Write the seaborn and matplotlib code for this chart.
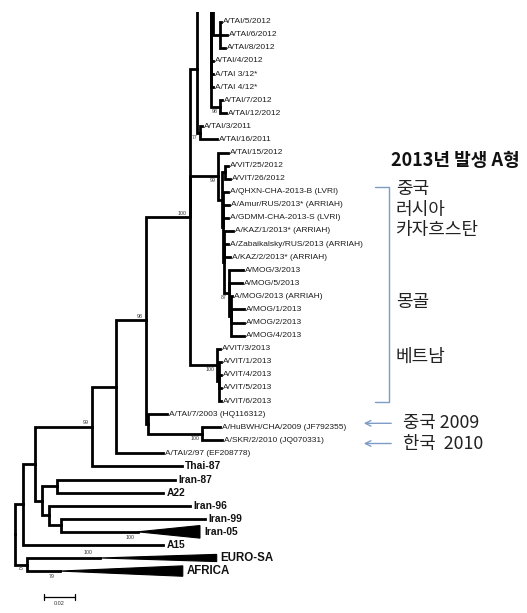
import matplotlib
matplotlib.use("Agg")
import matplotlib.pyplot as plt
import pandas as pd
import seaborn as sns

# ------------------------------------------------------------------ data
# visible leaves, top to bottom (depth = substitutions/site from root)
tip_names = [
    "A/TAI/5/2012", "A/TAI/6/2012", "A/TAI/8/2012", "A/TAI/4/2012",
    "A/TAI 3/12*", "A/TAI 4/12*", "A/TAI/7/2012", "A/TAI/12/2012",
    "A/TAI/3/2011", "A/TAI/16/2011", "A/TAI/15/2012", "A/VIT/25/2012",
    "A/VIT/26/2012", "A/QHXN-CHA-2013-B (LVRI)", "A/Amur/RUS/2013* (ARRIAH)",
    "A/GDMM-CHA-2013-S (LVRI)", "A/KAZ/1/2013* (ARRIAH)",
    "A/Zabaikalsky/RUS/2013 (ARRIAH)", "A/KAZ/2/2013* (ARRIAH)",
    "A/MOG/3/2013", "A/MOG/5/2013", "A/MOG/2013 (ARRIAH)", "A/MOG/1/2013",
    "A/MOG/2/2013", "A/MOG/4/2013", "A/VIT/3/2013", "A/VIT/1/2013",
    "A/VIT/4/2013", "A/VIT/5/2013", "A/VIT/6/2013", "A/TAI/7/2003 (HQ116312)",
    "A/HuBWH/CHA/2009 (JF792355)", "A/SKR/2/2010 (JQ070331)",
    "A/TAI/2/97 (EF208778)", "Thai-87", "Iran-87", "A22", "Iran-96",
    "Iran-99", "Iran-05", "A15", "EURO-SA", "AFRICA",
]
tip_depth = [
    0.1345, 0.1379, 0.1368, 0.1293, 0.1293, 0.1293, 0.1349, 0.1375,
    0.1215, 0.1314, 0.1390, 0.1390, 0.1401, 0.1388, 0.1394, 0.1388,
    0.1420, 0.1388, 0.1401, 0.1485, 0.1479, 0.1414, 0.1495, 0.1495,
    0.1495, 0.1336, 0.1345, 0.1345, 0.1345, 0.1345, 0.0988, 0.1336,
    0.1347, 0.0964, 0.1086, 0.1042, 0.0964, 0.1140, 0.1238, 0.0800,
    0.0964, 0.0554, 0.0293,
]
reference_lineages = ["Thai-87", "Iran-87", "A22", "Iran-96", "Iran-99", "A15"]

# collapsed clades (depth where triangle starts / ends)
collapsed_names = ["Iran-05", "EURO-SA", "AFRICA"]
collapsed_far = [0.1205, 0.1314, 0.1093]
collapsed_support = [100, 100, 79]

# leaves of the cropped upper part of the tree (rows above the picture)
hidden_names = ["h9", "h8", "h7", "h6", "h5", "h4", "h3", "h2", "h1"]
hidden_depth = [0.1300] * 9

# internal nodes
node_names = ["R", "A", "B", "C", "E", "E1", "E2", "E3", "D", "F", "G", "G2",
              "HS", "H", "K", "T11", "T12", "Th", "T568", "T712", "N", "N2",
              "VITn", "N3", "N3b", "MOG", "Mb", "VIT13", "Vsub"]
node_depth = [0.0, 0.0054, 0.0076, 0.0130, 0.0174, 0.0272, 0.0221, 0.0300,
              0.0502, 0.0655, 0.0851, 0.0866, 0.1216, 0.1140, 0.1184, 0.1205,
              0.1274, 0.1287, 0.1336, 0.1336, 0.1324, 0.1347, 0.1368, 0.1352,
              0.1362, 0.1397, 0.1410, 0.1319, 0.1332]
node_children = [
    ["A", "B"], ["C", "A15"], ["EURO-SA", "AFRICA"], ["D", "E"], ["E1", "E2"],
    ["Iran-87", "A22"], ["Iran-96", "E3"], ["Iran-99", "Iran-05"],
    ["F", "Thai-87"], ["G", "A/TAI/2/97 (EF208778)"], ["H", "G2"],
    ["A/TAI/7/2003 (HQ116312)", "HS"],
    ["A/HuBWH/CHA/2009 (JF792355)", "A/SKR/2/2010 (JQ070331)"],
    ["K", "N", "VIT13"], ["T12", "T11"],
    ["A/TAI/3/2011", "A/TAI/16/2011"],
    ["h9", "h8", "h7", "h6", "Th", "A/TAI/4/2012", "A/TAI 3/12*",
     "A/TAI 4/12*", "T712"],
    ["h5", "h4", "h3", "h2", "h1", "T568"],
    ["A/TAI/5/2012", "A/TAI/6/2012", "A/TAI/8/2012"],
    ["A/TAI/7/2012", "A/TAI/12/2012"],
    ["A/TAI/15/2012", "N2"], ["VITn", "N3"],
    ["A/VIT/25/2012", "A/VIT/26/2012"],
    ["A/QHXN-CHA-2013-B (LVRI)", "A/Amur/RUS/2013* (ARRIAH)",
     "A/GDMM-CHA-2013-S (LVRI)", "N3b"],
    ["A/KAZ/1/2013* (ARRIAH)", "A/Zabaikalsky/RUS/2013 (ARRIAH)",
     "A/KAZ/2/2013* (ARRIAH)", "MOG"],
    ["A/MOG/3/2013", "A/MOG/5/2013", "Mb"],
    ["A/MOG/2013 (ARRIAH)", "A/MOG/1/2013", "A/MOG/2/2013", "A/MOG/4/2013"],
    ["A/VIT/3/2013", "Vsub"],
    ["A/VIT/1/2013", "A/VIT/4/2013", "A/VIT/5/2013", "A/VIT/6/2013"],
]
node_support = {"D": 99, "G": 98, "H": 100, "HS": 100, "VIT13": 100, "N": 99,
                "MOG": 87, "T11": 77, "T712": 98, "B": 75}
scale_bar_length = 0.02

# ------------------------------------------------------------------ layout
W, H_PX = 527, 613
PX_PER_UNIT = 1535.0          # horizontal pixels per substitution/site
ROOT_PX = 15.0
ROW0_PX, ROW_PX = 21.7, 13.08  # y of first row, row spacing
TOP_CLIP_PX = 12.0


def dx(px):
    return px / PX_PER_UNIT


def dy(px):
    return px / ROW_PX


depth = dict(zip(tip_names, tip_depth))
depth.update(zip(hidden_names, hidden_depth))
depth.update(zip(node_names, node_depth))
row = {n: i for i, n in enumerate(tip_names)}
row.update({n: -(9 - i) for i, n in enumerate(hidden_names)})
children = dict(zip(node_names, node_children))


def ypos(n):
    if n in row:
        return row[n]
    ys = [ypos(c) for c in children[n]]
    row[n] = (ys[0] + ys[-1]) / 2.0
    return row[n]


ypos("R")

segs = []
sid = 0
for n in node_names:
    nx, ny = depth[n], row[n]
    for c in children[n]:
        cy = row[c]
        segs += [(sid, nx, ny), (sid, nx, cy), (sid, depth[c], cy)]
        sid += 1
seg_df = pd.DataFrame(segs, columns=["seg", "x", "y"])

# ------------------------------------------------------------------ plot
sns.set_theme(style="white")
plt.rcParams["font.family"] = ["Liberation Sans", "DejaVu Sans"]

fig = plt.figure(figsize=(W / 100, H_PX / 100), dpi=100)
ax = fig.add_axes([0, 0, 1, (H_PX - TOP_CLIP_PX) / H_PX])

sns.lineplot(data=seg_df, x="x", y="y", units="seg", estimator=None,
             sort=False, color="black", linewidth=2.0, legend=False, ax=ax,
             solid_joinstyle="miter", solid_capstyle="projecting")

# collapsed triangles
half_h = {"Iran-05": dy(6.3), "EURO-SA": dy(3.6), "AFRICA": dy(5.2)}
for name, far, sup in zip(collapsed_names, collapsed_far, collapsed_support):
    x0, y0 = depth[name], row[name]
    h = half_h[name]
    ax.fill([x0, far, far], [y0, y0 - h, y0 + h], color="black", lw=0.8,
            edgecolor="black")
    big = name != "Iran-05"
    ax.text(far + dx(4), y0, name, ha="left", va="center",
            fontsize=8.3 if big else 7.4, fontweight="bold", color="#111111")
    if name == "EURO-SA":
        ax.text(x0 - dx(12), y0 - dy(2.5), str(sup), ha="center",
                va="bottom", fontsize=3.8, color="#333333")
    else:
        ax.text(x0 - dx(8), y0 + dy(3), str(sup), ha="center", va="top",
                fontsize=3.8, color="#333333")

# leaf labels
for name in tip_names:
    if name in collapsed_names:
        continue
    if name in reference_lineages:
        ax.text(depth[name] + dx(3.5), row[name], name, ha="left",
                va="center", fontsize=7.4, fontweight="bold",
                color="#111111")
    else:
        ax.text(depth[name] + dx(2), row[name], name, ha="left",
                va="center", fontsize=6.0, color="#1e1e1e")

# bootstrap values
above = {"D", "G", "H"}
for n, v in node_support.items():
    nx, ny = depth[n], row[n]
    if n in above:
        ax.text(nx - dx(3), ny - dy(1.4), str(v), ha="right", va="bottom",
                fontsize=3.8, color="#333333")
    else:
        ax.text(nx - dx(2.5), ny + dy(1.8), str(v), ha="right", va="top",
                fontsize=3.8, color="#333333")

# scale bar
sb_x0, sb_row = dx(44 - ROOT_PX), (597.3 - ROW0_PX) / ROW_PX
ax.plot([sb_x0, sb_x0 + scale_bar_length], [sb_row, sb_row], color="black",
        lw=0.9)
for xx in (sb_x0, sb_x0 + scale_bar_length):
    ax.plot([xx, xx], [sb_row - dy(3), sb_row + dy(3)], color="black",
            lw=0.9)
ax.text(sb_x0 + scale_bar_length / 2, sb_row + dy(3.5), "0.02",
        ha="center", va="top", fontsize=4, color="#333333")

ax.set_xlim(-dx(ROOT_PX), dx(W - ROOT_PX))
ax.set_ylim((H_PX - ROW0_PX) / ROW_PX, (TOP_CLIP_PX - ROW0_PX) / ROW_PX)
ax.axis("off")

# ------------------------------------------------------------------ annotations
kfont = ["Noto Sans CJK KR", "DejaVu Sans"]


def fxy(px, py):
    return px / W, 1 - py / H_PX


blue = "#7f9cc6"
fig.text(*fxy(391, 160), "2013년 발생 A형", family=kfont, fontsize=13,
         fontweight="bold", ha="left", va="center", color="#111111")
for txt, py in [("중국", 189), ("러시아", 209.5), ("카자흐스탄", 230),
                ("몽골", 301.7), ("베트남", 356.7)]:
    fig.text(*fxy(396, py), txt, family=kfont, fontsize=13, ha="left",
             va="center", color="#222222")

bx = [375, 389.3, 389.3, 375]
by = [186.7, 186.7, 401.7, 401.7]
fig.add_artist(plt.Line2D([b / W for b in bx], [1 - b / H_PX for b in by],
                          color=blue, lw=1.0))

for txt, py in [("중국 2009", 423.3), ("한국  2010", 443.5)]:
    fig.text(*fxy(403, py), txt, family=kfont, fontsize=12.8, ha="left",
             va="center", color="#222222")
    ax.annotate("", xy=fxy(361, py), xytext=fxy(394, py),
                xycoords="figure fraction", textcoords="figure fraction",
                arrowprops=dict(arrowstyle="->", color=blue, lw=1.0,
                                mutation_scale=10))

fig.savefig("out.png", dpi=100)
